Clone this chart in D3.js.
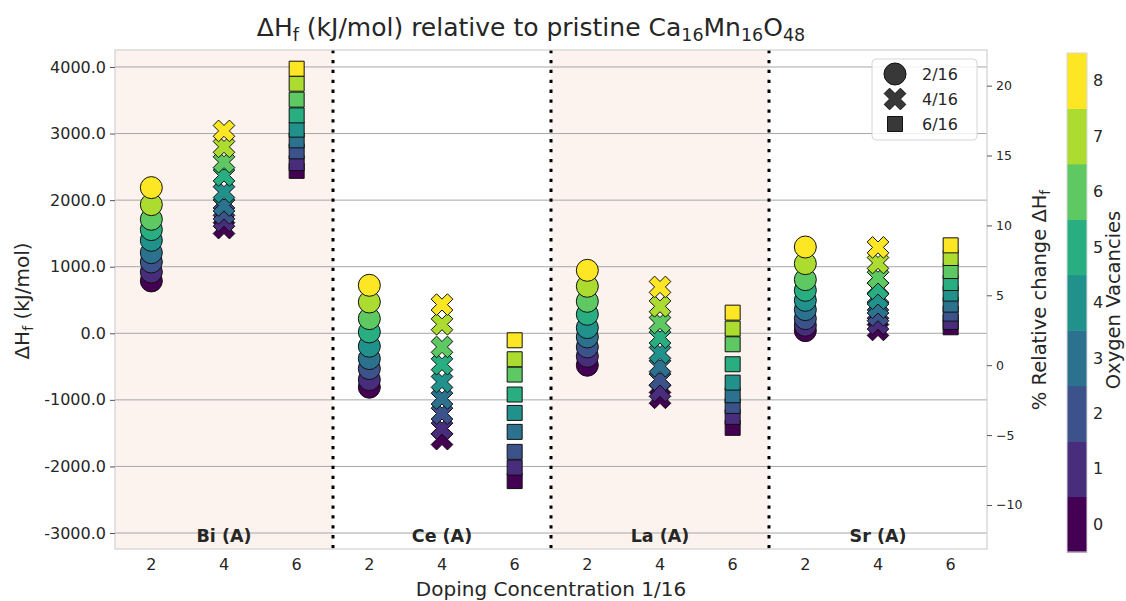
<!doctype html>
<html lang="">
<head>
<meta charset="utf-8">
<style>
    body { margin: 0; background: #fff; }
    text { font-family: "DejaVu Sans", sans-serif; fill: #262626; }
</style>
</head>
<body>

<div class="start"></div>

<script src="https://d3js.org/d3.v7.min.js"></script>
<script>

    // dopants (A site) and doping concentrations (x/16)
    let dopants = ['Bi', 'Ce', 'La', 'Sr'];
    let concentrations = [2, 4, 6];
    let vacancies = [0, 1, 2, 3, 4, 5, 6, 7, 8];

    // formation energy (kJ/mol), one value per oxygen vacancy count 0..8
    let bi2 = [786, 921, 1071, 1211, 1396, 1557, 1712, 1932, 2188];
    let bi4 = [1580, 1690, 1800, 1920, 2120, 2370, 2570, 2800, 3040];
    let bi6 = [2440, 2557, 2733, 2898, 3059, 3273, 3509, 3749, 3974];
    let ce2 = [-810, -695, -530, -380, -195, 20, 220, 470, 721];
    let ce4 = [-1590, -1431, -1206, -981, -731, -465, -205, 135, 431];
    let ce6 = [-2220, -2017, -1781, -1481, -1196, -920, -620, -390, -105];
    let la2 = [-480, -345, -205, -55, 85, 285, 480, 706, 946];
    let la4 = [-970, -866, -695, -495, -295, -65, 155, 405, 696];
    let la6 = [-1420, -1256, -1091, -931, -741, -465, -165, 70, 310];
    let sr2 = [40, 120, 220, 355, 495, 645, 806, 1046, 1296];
    let sr4 = [50, 145, 270, 386, 521, 671, 836, 1056, 1290];
    let sr6 = [90, 170, 296, 431, 596, 755, 935, 1131, 1321];

    let series = {Bi: [bi2, bi4, bi6], Ce: [ce2, ce4, ce6], La: [la2, la4, la6], Sr: [sr2, sr4, sr6]};

    let leftTicks = [-3000, -2000, -1000, 0, 1000, 2000, 3000, 4000];
    let rightTicks = [-10, -5, 0, 5, 10, 15, 20];
    let shadedDopants = ['Bi', 'La'];

    let width = 1126;
    let height = 601;
    let plot = {left: 115, right: 987, top: 50, bottom: 549};

    let svg = d3.select('.start').append('svg')
        .attr('width', width)
        .attr('height', height);

    // one column per dopant / concentration pair
    let columns = [];
    dopants.forEach((d) => concentrations.forEach((c, ci) => {
        columns.push({key: d + c, dopant: d, conc: c, values: series[d][ci]});
    }));

    let x = d3.scaleBand()
        .domain(columns.map((c) => c.key))
        .range([plot.left, plot.right]);

    let y = d3.scaleLinear().domain([-3240, 4255]).range([plot.bottom, plot.top]);
    let yRight = d3.scaleLinear().domain([-13.15, 22.55]).range([plot.bottom, plot.top]);

    let color = (v) => d3.interpolateViridis(v / 8);

    // background shading for alternating dopant blocks
    svg.append('g').selectAll('rect')
        .data(dopants.filter((d) => shadedDopants.includes(d)))
        .join('rect')
        .attr('x', (d) => x(d + concentrations[0]))
        .attr('y', plot.top)
        .attr('width', x.bandwidth() * concentrations.length)
        .attr('height', plot.bottom - plot.top)
        .attr('fill', '#fdf3ee');

    // horizontal grid
    svg.append('g').selectAll('line')
        .data(leftTicks)
        .join('line')
        .attr('x1', plot.left).attr('x2', plot.right)
        .attr('y1', (d) => y(d)).attr('y2', (d) => y(d))
        .attr('stroke', '#a6a6a6')
        .attr('stroke-width', 1);

    // dotted separators between dopants
    svg.append('g').selectAll('line')
        .data(dopants.slice(1))
        .join('line')
        .attr('x1', (d) => x(d + concentrations[0]))
        .attr('x2', (d) => x(d + concentrations[0]))
        .attr('y1', plot.top).attr('y2', plot.bottom)
        .attr('stroke', '#000')
        .attr('stroke-width', 3)
        .attr('stroke-dasharray', '3.3,6.6');

    // frame
    svg.append('rect')
        .attr('x', plot.left).attr('y', plot.top)
        .attr('width', plot.right - plot.left)
        .attr('height', plot.bottom - plot.top)
        .attr('fill', 'none')
        .attr('stroke', '#d2d2d2')
        .attr('stroke-width', 1.25);

    // dopant labels
    svg.append('g').selectAll('text')
        .data(dopants)
        .join('text')
        .attr('x', (d) => x(d + concentrations[1]) + x.bandwidth() / 2)
        .attr('y', 542)
        .attr('text-anchor', 'middle')
        .style('font-size', '17.5px')
        .style('font-weight', 'bold')
        .text((d) => d + ' (A)');

    // marker shapes
    function crossPath(s) {
        let pts = [[-1, -3], [-1, -1], [-3, -1], [-3, 1], [-1, 1], [-1, 3], [1, 3], [1, 1], [3, 1], [3, -1], [1, -1], [1, -3]];
        let k = s / 6, c = Math.SQRT1_2;
        return 'M' + pts.map((p) => {
            let px = p[0] * k, py = p[1] * k;
            return [(px - py) * c, (px + py) * c].join(',');
        }).join('L') + 'Z';
    }

    let shapes = {
        2: d3.symbol().type(d3.symbolCircle).size(Math.PI * 11 * 11)(),
        4: crossPath(23),
        6: d3.symbol().type(d3.symbolSquare).size(15 * 15)()
    };

    // markers
    let markers = svg.append('g');
    columns.forEach((col) => {
        markers.append('g').selectAll('path')
            .data(vacancies)
            .join('path')
            .attr('d', shapes[col.conc])
            .attr('transform', (v) => `translate(${x(col.key) + x.bandwidth() / 2},${y(col.values[v])})`)
            .attr('fill', (v) => color(v))
            .attr('stroke', '#111')
            .attr('stroke-width', 1);
    });

    // left axis
    let leftAxis = svg.append('g')
        .attr('transform', `translate(${plot.left},0)`)
        .call(d3.axisLeft(y).tickValues(leftTicks).tickFormat((d) => d3.format('.1f')(d).replace('−', '-')).tickSizeOuter(0).tickSize(5).tickPadding(4));
    leftAxis.select('.domain').remove();
    leftAxis.selectAll('line').attr('stroke', '#555');
    leftAxis.selectAll('text').style('font-size', '16px').attr('fill', '#262626').style('font-family', '"DejaVu Sans", sans-serif');

    // bottom axis
    let bottomAxis = svg.append('g')
        .attr('transform', `translate(0,${plot.bottom})`)
        .call(d3.axisBottom(x).tickFormat((k) => columns.find((c) => c.key === k).conc).tickSize(0).tickPadding(10));
    bottomAxis.select('.domain').remove();
    bottomAxis.selectAll('text').style('font-size', '16px').attr('fill', '#262626').style('font-family', '"DejaVu Sans", sans-serif');

    // right axis
    let rightAxis = svg.append('g')
        .attr('transform', `translate(${plot.right},0)`)
        .call(d3.axisRight(yRight).tickValues(rightTicks).tickSize(5).tickPadding(4));
    rightAxis.select('.domain').remove();
    rightAxis.selectAll('line').attr('stroke', '#555');
    rightAxis.selectAll('text').style('font-size', '12.5px').attr('fill', '#262626').style('font-family', '"DejaVu Sans", sans-serif');

    // axis titles
    let yLabel = svg.append('text')
        .attr('transform', 'translate(29,301) rotate(-90)')
        .attr('text-anchor', 'middle')
        .style('font-size', '20px');
    yLabel.append('tspan').text('ΔH');
    yLabel.append('tspan').attr('dy', 4).style('font-size', '14px').text('f');
    yLabel.append('tspan').attr('dy', -4).text(' (kJ/mol)');

    let rLabel = svg.append('text')
        .attr('transform', 'translate(1046,300) rotate(-90)')
        .attr('text-anchor', 'middle')
        .style('font-size', '19.5px');
    rLabel.append('tspan').text('% Relative change ΔH');
    rLabel.append('tspan').attr('dy', 4).style('font-size', '13.5px').text('f');

    svg.append('text')
        .attr('x', (plot.left + plot.right) / 2)
        .attr('y', 596)
        .attr('text-anchor', 'middle')
        .style('font-size', '20px')
        .text('Doping Concentration 1/16');

    // title
    let title = svg.append('text')
        .attr('x', 531)
        .attr('y', 36)
        .attr('text-anchor', 'middle')
        .style('font-size', '25px');
    [['ΔH', 0], ['f', 1], [' (kJ/mol) relative to pristine Ca', 0], ['16', 1], ['Mn', 0], ['16', 1], ['O', 0], ['48', 1]]
        .forEach((p, i, arr) => {
            let prevSub = i > 0 && arr[i - 1][1];
            let dy = p[1] ? (prevSub ? 0 : 5) : (prevSub ? -5 : 0);
            title.append('tspan').attr('dy', dy).style('font-size', p[1] ? '17.5px' : '25px').text(p[0]);
        });

    // legend
    let legend = svg.append('g').attr('transform', 'translate(872,59)');
    legend.append('rect')
        .attr('width', 105).attr('height', 81)
        .attr('rx', 4)
        .attr('fill', 'rgba(255,255,255,0.85)')
        .attr('stroke', '#d6d6d6');
    concentrations.forEach((c, i) => {
        let ly = 15 + i * 25;
        legend.append('path')
            .attr('d', shapes[c])
            .attr('transform', `translate(23,${ly})`)
            .attr('fill', '#383838')
            .attr('stroke', '#111');
        legend.append('text')
            .attr('x', 50).attr('y', ly)
            .attr('dy', '0.35em')
            .style('font-size', '16px')
            .text(c + '/16');
    });

    // colorbar
    let cb = {x: 1067, top: 53, bottom: 552, w: 20};
    let cbScale = d3.scaleLinear().domain([-0.5, 8.5]).range([cb.bottom, cb.top]);
    let colorbar = svg.append('g');
    colorbar.selectAll('rect')
        .data(vacancies)
        .join('rect')
        .attr('x', cb.x)
        .attr('y', (v) => cbScale(v + 0.5))
        .attr('width', cb.w)
        .attr('height', (v) => cbScale(v - 0.5) - cbScale(v + 0.5) + 0.5)
        .attr('fill', (v) => color(v));
    colorbar.append('rect')
        .attr('x', cb.x).attr('y', cb.top)
        .attr('width', cb.w).attr('height', cb.bottom - cb.top)
        .attr('fill', 'none')
        .attr('stroke', '#d8d8d8');
    colorbar.selectAll('text')
        .data(vacancies)
        .join('text')
        .attr('x', cb.x + cb.w + 6)
        .attr('y', (v) => cbScale(v))
        .attr('dy', '0.35em')
        .style('font-size', '16px')
        .text((v) => v);

    svg.append('text')
        .attr('transform', 'translate(1120,300) rotate(-90)')
        .attr('text-anchor', 'middle')
        .style('font-size', '19.5px')
        .text('Oxygen Vacancies');

</script>
</body>
</html>
